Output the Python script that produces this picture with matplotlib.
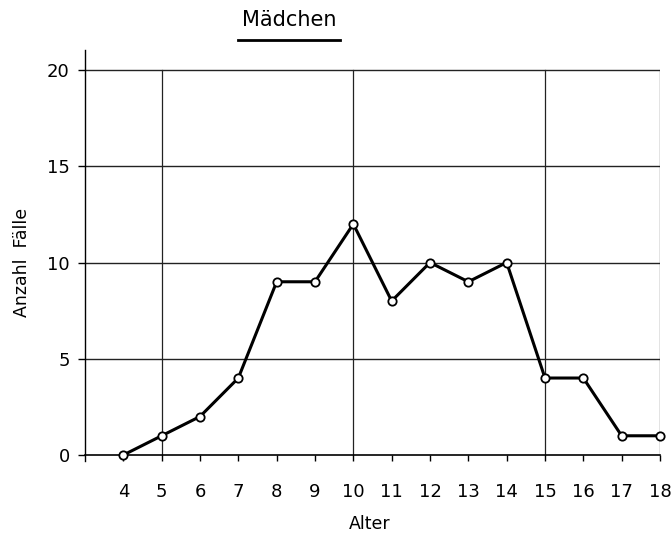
import matplotlib
matplotlib.use("Agg")
import matplotlib.pyplot as plt
from matplotlib.lines import Line2D

ages = [4, 5, 6, 7, 8, 9, 10, 11, 12, 13, 14, 15, 16, 17, 18]
cases = [0, 1, 2, 4, 9, 9, 12, 8, 10, 9, 10, 4, 4, 1, 1]
y_ticks = [0, 5, 10, 15, 20]
y_tick_labels = ["0", "5", "10", "15", "20"]
v_grid = [5, 10, 15, 18]

plt.rcParams['font.family'] = ['DejaVu Sans']

fig = plt.figure(figsize=(6.71, 5.36), dpi=100)
ax = fig.add_axes([85/671, (536-460.8)/536, 575/671, 411/536])
ax.set_xlim(3, 18)
ax.set_ylim(-0.3, 21.05)

for s in ['top', 'right']:
    ax.spines[s].set_visible(False)
ax.spines['left'].set_linewidth(1.0)
ax.spines['bottom'].set_position(('data', 0))
ax.spines['bottom'].set_bounds(3, 18)
ax.spines['bottom'].set_linewidth(1.2)

for yv in y_ticks[1:]:
    ax.plot([3, 18], [yv, yv], color='#222222', lw=1.0, zorder=1)
for xv in v_grid:
    ax.plot([xv, xv], [0, 20], color='#222222', lw=0.9, zorder=1)

ax.plot(ages, cases, color='black', lw=2.2, marker='o', markersize=6,
        markerfacecolor='white', markeredgecolor='black', markeredgewidth=1.3,
        zorder=3, clip_on=False)

ax.set_xticks(ages)
ax.set_xticklabels([str(a) for a in ages], fontsize=13, fontweight='medium')
ax.tick_params(axis='x', direction='out', length=4, width=1, pad=16)
ax.set_yticks(y_ticks)
ax.set_yticklabels(y_tick_labels, fontsize=13, fontweight='medium')
ax.tick_params(axis='y', direction='out', length=5, width=1, pad=6)

fig.text(22/671, (536-262)/536, "Anzahl  Fälle", rotation=90,
         ha='center', va='center', fontsize=12.5)
fig.text(370/671, (536-524)/536, "Alter", ha='center', va='center', fontsize=12.5)

fig.text(289/671, (536-20)/536, "Mädchen", ha='center', va='center', fontsize=15)
fig.add_artist(Line2D([238/671, 340/671], [(536-40)/536, (536-40)/536],
                      color='black', lw=2.0, transform=fig.transFigure))

fig.savefig("out.png", dpi=100)
